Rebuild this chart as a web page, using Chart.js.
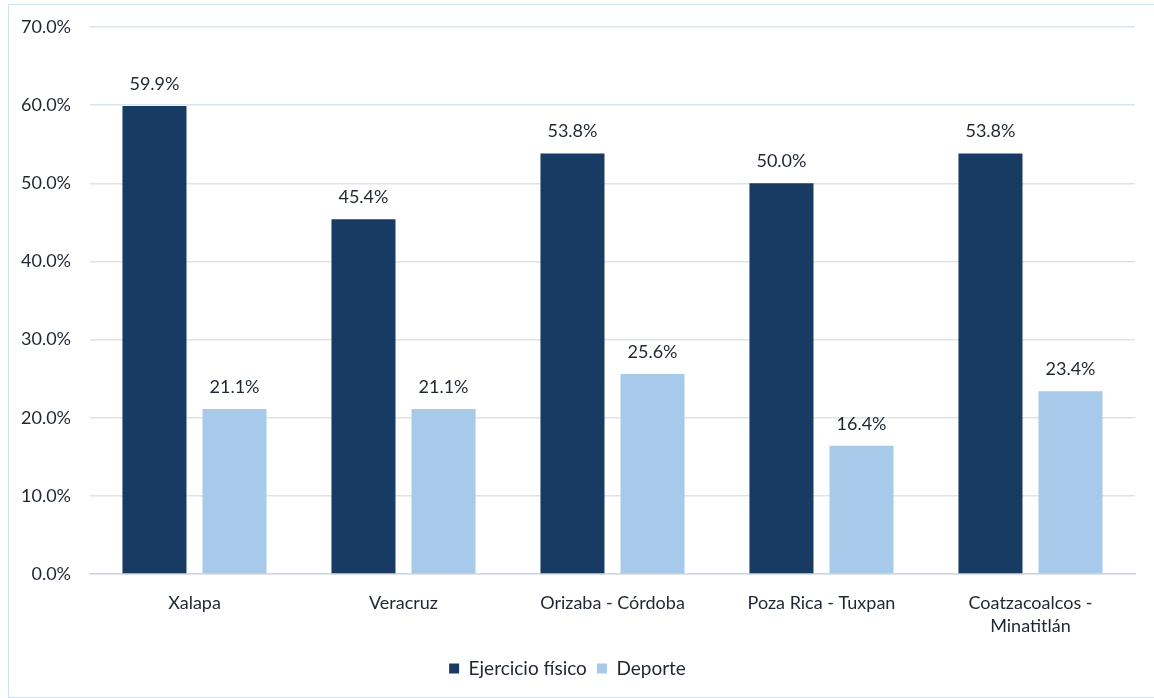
<!DOCTYPE html>
<html>
<head>
<meta charset="utf-8">
<script src="https://cdn.jsdelivr.net/npm/chart.js@4"></script>
<style>
html,body{margin:0;padding:0;background:#fff;}
#wrap{position:absolute;left:0;top:0;width:1154px;height:698px;}
#frame{position:absolute;left:8px;top:4px;width:1160px;height:694px;border:1px solid #cfe0f0;box-sizing:border-box;pointer-events:none;}
canvas{position:absolute;left:0;top:0;}
</style>
</head>
<body>
<div id="wrap">
<canvas id="c" width="1154" height="698"></canvas>
<div id="frame"></div>
</div>
<script>
const categories = ["Xalapa", "Veracruz", "Orizaba - Córdoba", "Poza Rica - Tuxpan", ["Coatzacoalcos -", "Minatitlán"]];
const seriesNames = ["Ejercicio físico", "Deporte"];
const ejercicio = [59.9, 45.4, 53.8, 50.0, 53.8];
const deporte = [21.1, 21.1, 25.6, 16.4, 23.4];
const yTicks = [0, 10, 20, 30, 40, 50, 60, 70];

const FONT = "Lato, 'Open Sans', sans-serif";
const TXT = "#1f2732";

const labelPlugin = {
  id: 'barLabels',
  afterDatasetsDraw(chart) {
    const ctx = chart.ctx;
    ctx.save();
    ctx.font = "18px " + FONT;
    ctx.fillStyle = TXT;
    ctx.textAlign = 'center';
    ctx.textBaseline = 'middle';
    chart.data.datasets.forEach((ds, i) => {
      const meta = chart.getDatasetMeta(i);
      meta.data.forEach((bar, j) => {
        ctx.fillText(ds.data[j].toFixed(1) + '%', bar.x, bar.y - 22);
      });
    });
    ctx.restore();
  }
};

new Chart(document.getElementById('c'), {
  type: 'bar',
  data: {
    labels: categories,
    datasets: [
      { label: seriesNames[0], data: ejercicio, backgroundColor: '#173b63' },
      { label: seriesNames[1], data: deporte, backgroundColor: '#a7c9ea' }
    ]
  },
  options: {
    responsive: false,
    animation: false,
    categoryPercentage: 0.766,
    barPercentage: 0.8,
    layout: { padding: { top: 27, right: 19, left: 0, bottom: 10 } },
    plugins: {
      legend: {
        position: 'bottom',
        labels: {
          font: { size: 19, family: FONT },
          color: TXT,
          boxWidth: 10,
          boxHeight: 10,
          padding: 10
        }
      },
      tooltip: { enabled: false }
    },
    scales: {
      x: {
        grid: { display: false, drawTicks: false },
        border: { display: true, color: '#d0d7df', width: 1.5 },
        ticks: { font: { size: 18, family: FONT, lineHeight: 1.28 }, color: TXT, padding: 18, maxRotation: 0 },
        afterFit(s) { s.height = 75; s.paddingLeft = 0; s.paddingRight = 0; }
      },
      y: {
        min: 0, max: 70,
        afterBuildTicks(s) { s.ticks = yTicks.map(v => ({ value: v })); },
        grid: { color: '#dbe3ec', lineWidth: 1.5, drawTicks: false },
        border: { display: false },
        ticks: { font: { size: 18, family: FONT }, color: TXT, padding: 19,
                 callback: v => v.toFixed(1) + '%' },
        afterFit(s) { s.width = 90; s.paddingTop = 0; s.paddingBottom = 0; }
      }
    }
  },
  plugins: [labelPlugin]
});
</script>
</body>
</html>
